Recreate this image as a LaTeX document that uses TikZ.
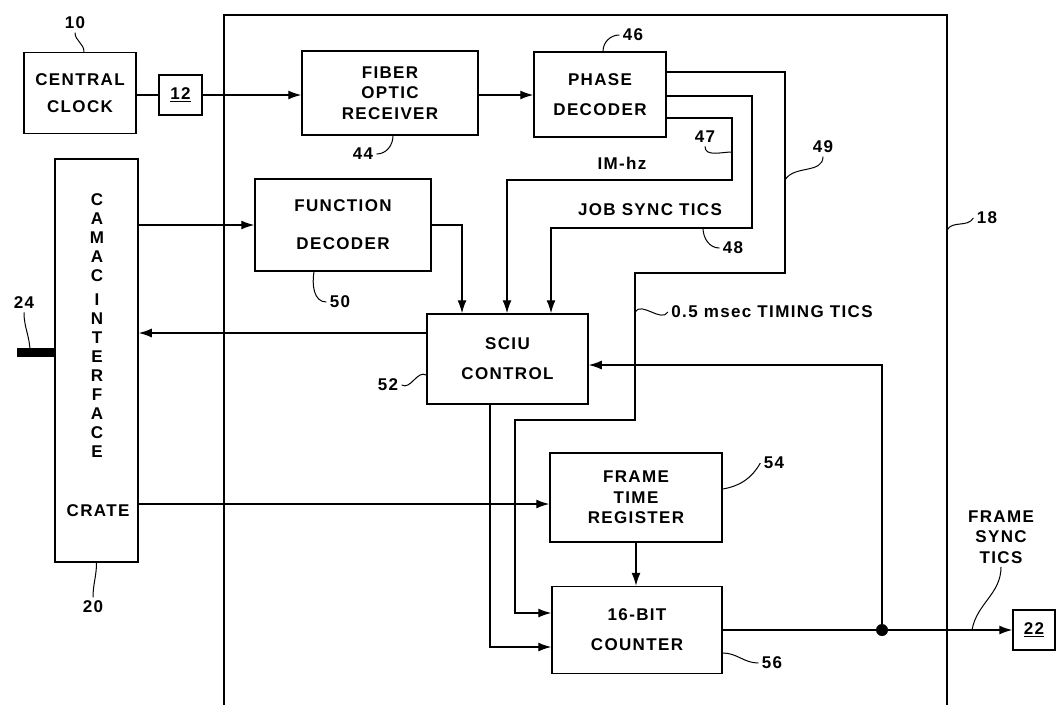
\documentclass[tikz,border=0pt]{standalone}
\usepackage{fontspec}
\setmainfont{Liberation Sans}[LetterSpace=8.0]
\usetikzlibrary{calc,arrows.meta}

\begin{document}
\begin{tikzpicture}[x=1pt,y=1pt,
  every node/.style={font=\fontsize{17}{20.5}\selectfont\bfseries},
  box/.style={draw,line width=1.5pt,inner sep=0pt,align=center},
  wire/.style={line width=1.3pt},
  arr/.style={wire,-{Latex[length=13pt,width=9pt]}},
  lead/.style={line width=1pt}]
  \useasboundingbox (0,0) rectangle (1056,-705);

  % module 18
  \draw[line width=1.5pt] (224,-705) |- (947,-15) -- (947,-705);

  % blocks
  \node[box,minimum width=112pt,minimum height=81pt] (clock) at (80,-93) {CENTRAL\\[6.5pt]CLOCK};
  \node[box,minimum width=43pt,minimum height=40pt] (b12) at (180.5,-95) {\underline{12}};
  \node[box,minimum width=176pt,minimum height=84pt] (fiber) at (390,-93) {FIBER\\OPTIC\\RECEIVER};
  \node[box,minimum width=132pt,minimum height=85pt] (phase) at (600,-94.5) {PHASE\\[9.5pt]DECODER};
  \node[box,minimum width=83pt,minimum height=403pt] (camac) at (96.5,-360.5) {};
  \node[align=center,font=\fontsize{17}{19}\selectfont\bfseries] (camactxt) at (97,-326)
    {C\\A\\M\\A\\C\\[5pt]I\\N\\T\\E\\R\\F\\A\\C\\E};
  \node (crate) at (98,-511) {CRATE};
  \node[box,minimum width=176pt,minimum height=92pt] (func) at (343,-225) {FUNCTION\\[17.5pt]DECODER};
  \node[box,minimum width=161pt,minimum height=90pt] (sciu) at (507.5,-359) {SCIU\\[9.5pt]CONTROL};
  \node[box,minimum width=172pt,minimum height=89pt] (frame) at (636,-497.5) {FRAME\\TIME\\REGISTER};
  \node[box,minimum width=170pt,minimum height=87pt] (counter) at (637,-630) {16-BIT\\[9.5pt]COUNTER};
  \node[box,minimum width=42pt,minimum height=40pt] (b22) at (1034,-630) {\underline{22}};

  % signal names
  \node (hz) at (622,-163) {IM-hz};
  \node (job) at (650,-210) {JOB SYNC TICS};
  \node (tim) at (772,-312) {0.5 msec TIMING TICS};
  \node[align=center] (fst) at (1001,-537) {FRAME\\SYNC\\TICS};

  % reference numbers
  \node (l10) at (75,-23) {10};
  \node (l44) at (363,-154) {44};
  \node (l46) at (633,-35) {46};
  \node (l47) at (705,-137) {47};
  \node (l48) at (733,-248) {48};
  \node (l49) at (823,-147) {49};
  \node (l18) at (987,-218) {18};
  \node (l50) at (340,-302) {50};
  \node (l52) at (388,-385) {52};
  \node (l54) at (774,-463) {54};
  \node (l56) at (772,-663) {56};
  \node (l24) at (24,-303) {24};
  \node (l20) at (93,-607) {20};

  % points on wires
  \coordinate (w47) at (732,-152);
  \coordinate (w48) at (703,-228);
  \coordinate (w49) at (785,-180);
  \coordinate (w18) at (947,-230);
  \coordinate (wts) at (635,-312);
  \coordinate (wfs) at (972,-630);
  \coordinate (bus) at (17,-352);
  \coordinate (dot) at (882,-630);

  % clock path
  \draw[wire] (clock.east |- b12) -- (b12.west);
  \draw[arr] (b12.east) -- (b12 -| fiber.west);
  \draw[arr] (fiber.east |- b12) -- (b12 -| phase.west);

  % phase decoder outputs
  \draw[arr] (phase.east |- 0,-118) -| (w47) |- (507,-180) -- (sciu.north -| 507,0);
  \draw[arr] (phase.east |- 0,-96) -| (752,-228) -| (sciu.north -| 551,0);
  \draw[arr] (phase.east |- 0,-72) -| (785,-273) -| (635,-420) -| (515,-613) -- (counter.west |- 0,-613);

  % camac side
  \draw[line width=9pt] (camac.west |- bus) -- (bus);
  \draw[arr] (camac.east |- func) -- (func.west);
  \draw[arr] (func.east) -| (sciu.north -| 462,0);
  \draw[arr] (sciu.west |- 0,-333) -- (camac.east |- 0,-333);
  \draw[arr] (camac.east |- 0,-504) -- (frame.west |- 0,-504);

  % counter
  \draw[arr] (sciu.south -| 490,0) |- (counter.west |- 0,-647);
  \draw[arr] (frame.south) -- (frame.south |- counter.north);
  \draw[arr] (counter.east) -- (b22.west);
  \draw[arr] (dot) |- (sciu.east |- 0,-365);
  \fill (dot) circle (6);

  % leader lines
  \draw[lead] (l10.south) to[out=-90,in=90] ($(clock.north)+(4,0)$);
  \draw[lead] (l44.east) to[out=0,in=-90] ($(fiber.south)+(3,0)$);
  \draw[lead] ($(phase.north)+(3,0)$) to[out=90,in=180] (l46.west);
  \draw[lead] (l47.south) to[out=-90,in=180] (w47);
  \draw[lead] (w48) to[out=-90,in=180] (l48.west);
  \draw[lead] (w49) to[out=60,in=-90] (l49.south);
  \draw[lead] (w18) to[out=60,in=-120] (l18.west);
  \draw[lead] (wts) to[out=60,in=-120] (tim.west);
  \draw[lead] ($(func.south)+(-29,0)$) to[out=-100,in=180] (l50.west);
  \draw[lead] (l52.east) to[out=-30,in=150] ($(sciu.west)+(0,-16)$);
  \draw[lead] ($(frame.east)+(0,8.5)$) to[out=10,in=240] (l54.west);
  \draw[lead] ($(counter.east)+(0,-23)$) to[out=0,in=180] (l56.west);
  \draw[lead] (l24.south) to[out=-90,in=90] (bus -| 30,0);
  \draw[lead] (camac.south) to[out=-90,in=90] (l20.north);
  \draw[lead] (fst.south) to[out=-90,in=80] (wfs);
\end{tikzpicture}
\end{document}
